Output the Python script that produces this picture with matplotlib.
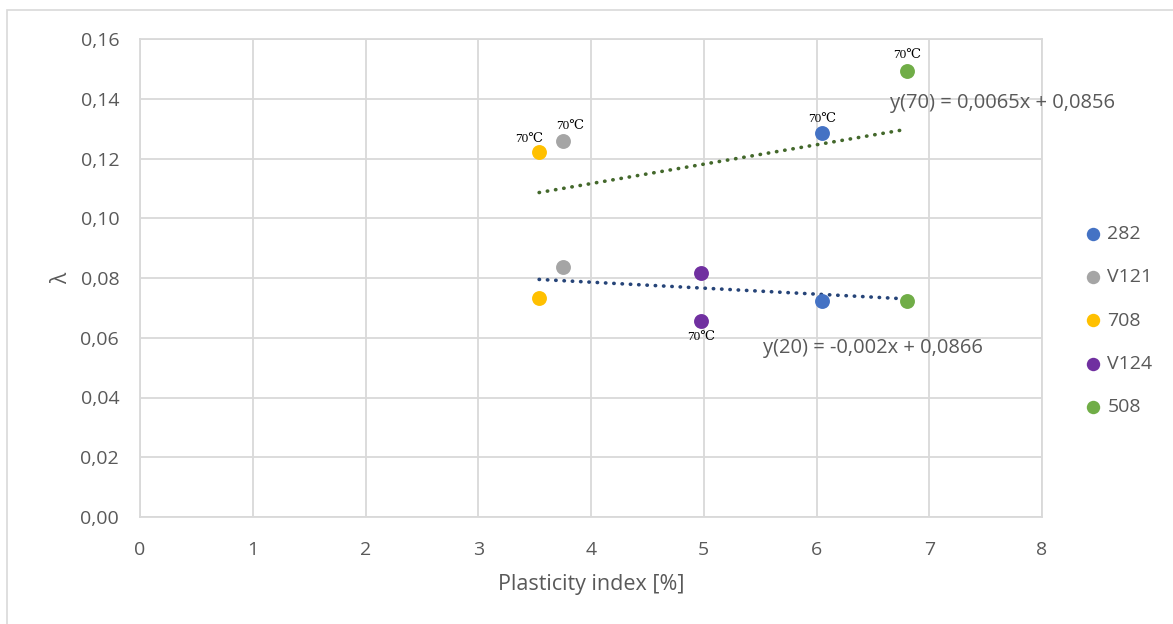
import matplotlib
matplotlib.use("Agg")
import matplotlib.pyplot as plt
from matplotlib.patches import Rectangle
import numpy as np

# Soil samples: plasticity index and compression index at 20 °C and 70 °C
samples = ["282", "V121", "708", "V124", "508"]
plasticity_index = [6.05, 3.75, 3.54, 4.98, 6.80]
lambda_20 = [0.0723, 0.0837, 0.0733, 0.0817, 0.0723]
lambda_70 = [0.1285, 0.1259, 0.1222, 0.0656, 0.1493]
colors = ["#4472C4", "#A5A5A5", "#FFC000", "#7030A0", "#70AD47"]

# Linear trendlines (slope, intercept)
trend_70 = (0.0065, 0.0856)
trend_20 = (-0.002, 0.0866)
label_70 = "y(70) = 0,0065x + 0,0856"
label_20 = "y(20) = -0,002x + 0,0866"
temp_label = "70℃"

x_ticks = [0, 1, 2, 3, 4, 5, 6, 7, 8]
y_ticks = [0.00, 0.02, 0.04, 0.06, 0.08, 0.10, 0.12, 0.14, 0.16]

plt.rcParams["font.family"] = ["Open Sans", "DejaVu Sans"]
text_color = "#595959"
grid_color = "#D9D9D9"
fs = 14

W, H = 1173, 624
fig = plt.figure(figsize=(W / 100, H / 100), dpi=100)
fig.patch.set_facecolor("white")

# outer chart border
fig.add_artist(Rectangle((7 / W, -0.1), 1.2, (624 - 10) / H + 0.1,
                         transform=fig.transFigure, fill=False,
                         edgecolor="#D9D9D9", lw=1.2))

ax = fig.add_axes([140 / W, 1 - 517 / H, (1042 - 140) / W, (517 - 39) / H])
ax.set_xlim(x_ticks[0], x_ticks[-1])
ax.set_ylim(y_ticks[0], y_ticks[-1])
ax.set_xticks(x_ticks)
ax.set_yticks(y_ticks)
ax.set_xticklabels([str(t) for t in x_ticks])
ax.set_yticklabels([f"{t:.2f}".replace(".", ",") for t in y_ticks])
ax.tick_params(length=0, labelsize=fs, colors=text_color)
ax.tick_params(axis="y", pad=15)
ax.tick_params(axis="x", pad=17)
ax.grid(True, color=grid_color, lw=1.3)
ax.set_axisbelow(True)
for s in ax.spines.values():
    s.set_color(grid_color)
    s.set_linewidth(1.3)

ax.set_xlabel("Plasticity index [%]", fontsize=15.5, color=text_color, labelpad=11)
ax.set_ylabel("λ", fontsize=15, color=text_color, labelpad=6)

# trendlines over the data range
xs = np.array([min(plasticity_index), max(plasticity_index)])
ax.plot(xs, trend_70[0] * xs + trend_70[1], color="#43682B", lw=2.6,
        linestyle=(0, (0.1, 2.2)), dash_capstyle="round", zorder=2)
ax.plot(xs, trend_20[0] * xs + trend_20[1], color="#264478", lw=2.6,
        linestyle=(0, (0.1, 2.2)), dash_capstyle="round", zorder=2)

for name, x, l20, l70, c in zip(samples, plasticity_index, lambda_20, lambda_70, colors):
    ax.scatter([x], [l20], s=115, color=c, zorder=3, label=name, linewidths=0)
    ax.scatter([x], [l70], s=115, color=c, zorder=3, linewidths=0)

# temperature tags next to the 70 °C points
tag_offsets = {
    "282": (0, 5.5, "center", "bottom"),
    "V121": (5, 6.5, "center", "bottom"),
    "708": (-7.5, 5, "center", "bottom"),
    "V124": (0, -7.5, "center", "top"),
    "508": (0, 7, "center", "bottom"),
}
for name, x, l70 in zip(samples, plasticity_index, lambda_70):
    dx, dy, ha, va = tag_offsets[name]
    ax.annotate(temp_label, (x, l70), xytext=(dx, dy), textcoords="offset points",
                ha=ha, va=va, fontsize=9.5, color="black",
                family=["Liberation Serif", "DejaVu Serif"])

ax.text(890 / W, 1 - 103 / H, label_70, transform=fig.transFigure,
        fontsize=14.5, color=text_color, ha="left", va="center")
ax.text(763 / W, 1 - 348 / H, label_20, transform=fig.transFigure,
        fontsize=14.5, color=text_color, ha="left", va="center")

leg = ax.legend(loc="upper left", bbox_to_anchor=(1087 / W, 1 - 225 / H),
                bbox_transform=fig.transFigure, frameon=False, fontsize=fs,
                labelspacing=1.3, handlelength=0.6, handletextpad=0.45,
                borderpad=0, borderaxespad=0, markerscale=0.9)
for t in leg.get_texts():
    t.set_color(text_color)

fig.savefig("out.png", dpi=100)
